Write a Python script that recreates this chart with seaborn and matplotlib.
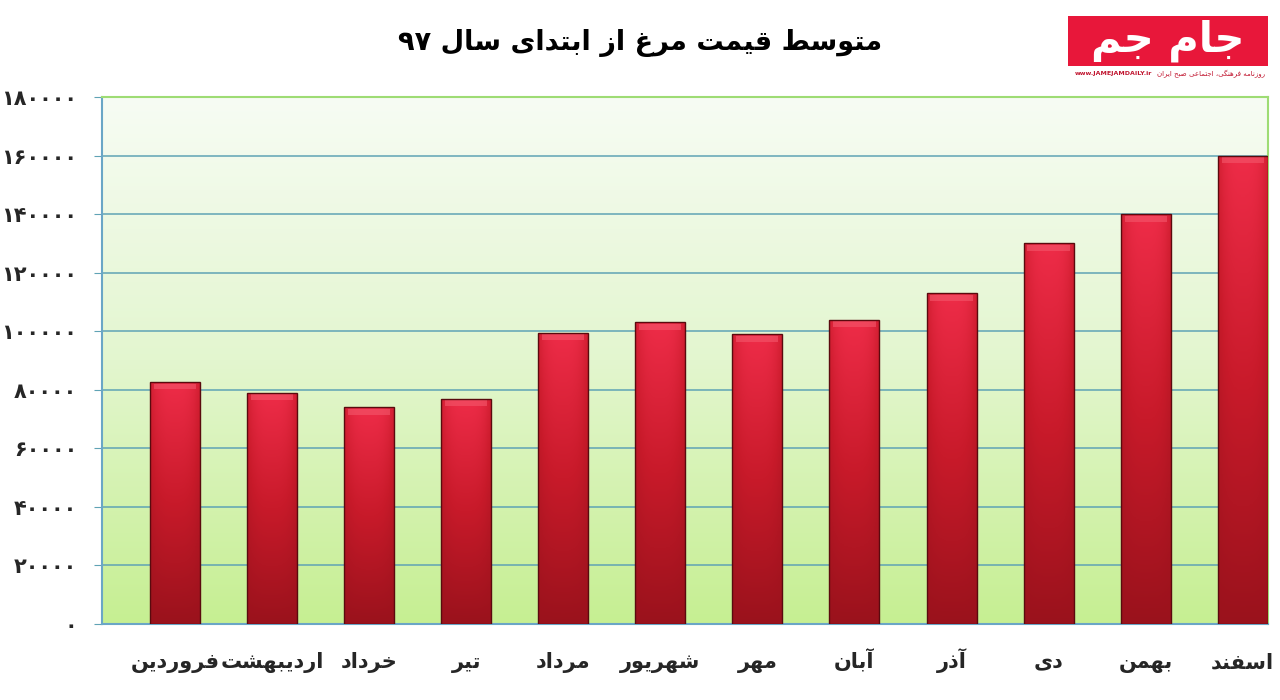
import numpy as np
import pandas as pd
import seaborn as sns
import matplotlib.pyplot as plt
from matplotlib.colors import LinearSegmentedColormap
from matplotlib.patches import Rectangle

# data
months = ["فروردین", "اردیبهشت", "خرداد", "تیر", "مرداد", "شهریور",
          "مهر", "آبان", "آذر", "دی", "بهمن", "اسفند"]
prices = [82700, 79000, 74000, 77000, 99500, 103000,
          99000, 104000, 113000, 130000, 140000, 160000]
yticks = [0, 20000, 40000, 60000, 80000, 100000, 120000, 140000, 160000, 180000]
title = "متوسط قیمت مرغ از ابتدای سال ۹۷"
logo = "جام جم"
logo_sub = "روزنامه فرهنگی، اجتماعی صبح ایران"
logo_url = "www.JAMEJAMDAILY.ir"

# minimal arabic/persian shaping (matplotlib has no bidi/shaping)
FORMS = {
    'ا': (0xFE8D, 0xFE8E, None, None), 'آ': (0xFE81, 0xFE82, None, None),
    'ب': (0xFE8F, 0xFE90, 0xFE91, 0xFE92), 'ت': (0xFE95, 0xFE96, 0xFE97, 0xFE98),
    'ج': (0xFE9D, 0xFE9E, 0xFE9F, 0xFEA0), 'ح': (0xFEA1, 0xFEA2, 0xFEA3, 0xFEA4),
    'خ': (0xFEA5, 0xFEA6, 0xFEA7, 0xFEA8), 'د': (0xFEA9, 0xFEAA, None, None),
    'ذ': (0xFEAB, 0xFEAC, None, None), 'ر': (0xFEAD, 0xFEAE, None, None),
    'ز': (0xFEAF, 0xFEB0, None, None), 'س': (0xFEB1, 0xFEB2, 0xFEB3, 0xFEB4),
    'ش': (0xFEB5, 0xFEB6, 0xFEB7, 0xFEB8), 'ص': (0xFEB9, 0xFEBA, 0xFEBB, 0xFEBC),
    'ط': (0xFEC1, 0xFEC2, 0xFEC3, 0xFEC4), 'ع': (0xFEC9, 0xFECA, 0xFECB, 0xFECC),
    'غ': (0xFECD, 0xFECE, 0xFECF, 0xFED0), 'ف': (0xFED1, 0xFED2, 0xFED3, 0xFED4),
    'ق': (0xFED5, 0xFED6, 0xFED7, 0xFED8), 'ل': (0xFEDD, 0xFEDE, 0xFEDF, 0xFEE0),
    'م': (0xFEE1, 0xFEE2, 0xFEE3, 0xFEE4), 'ن': (0xFEE5, 0xFEE6, 0xFEE7, 0xFEE8),
    'ه': (0xFEE9, 0xFEEA, 0xFEEB, 0xFEEC), 'و': (0xFEED, 0xFEEE, None, None),
    'ی': (0xFBFC, 0xFBFD, 0xFBFE, 0xFBFF), 'گ': (0xFB92, 0xFB93, 0xFB94, 0xFB95),
    'LA': (0xFEFB, 0xFEFC, None, None),
}


def shape_word(w):
    toks = []
    i = 0
    while i < len(w):
        if w[i] == 'ل' and i + 1 < len(w) and w[i + 1] == 'ا':
            toks.append('LA')
            i += 2
        else:
            toks.append(w[i])
            i += 1
    out = []
    for i, t in enumerate(toks):
        if t not in FORMS:
            out.append(t)
            continue
        prev = i > 0 and toks[i - 1] in FORMS and FORMS[toks[i - 1]][2] is not None
        nxt = FORMS[t][2] is not None and i + 1 < len(toks) and toks[i + 1] in FORMS
        f = FORMS[t]
        if prev and nxt:
            code = f[3]
        elif prev:
            code = f[1]
        elif nxt:
            code = f[2]
        else:
            code = f[0]
        out.append(chr(code))
    if any(ch in FORMS for ch in w):
        out = out[::-1]
    return ''.join(out)


def rtl(text):
    return ' '.join(shape_word(w) for w in text.split(' ')[::-1])


def fa_digits(v):
    return str(v).translate(str.maketrans('0123456789', '۰۱۲۳۴۵۶۷۸۹'))


sns.set_style("white")
plt.rcParams['font.family'] = ['DejaVu Sans']

df = pd.DataFrame({"month": months, "price": prices})

fig = plt.figure(figsize=(12.8, 7), dpi=100)
fig.patch.set_facecolor("white")
ax = fig.add_axes([102 / 1280, 1 - 624 / 700, (1268 - 102) / 1280, (624 - 97) / 700])

sns.barplot(data=df, x="month", y="price", ax=ax, width=0.515, color="#c81a2a",
            saturation=1, edgecolor="#5a0a0e", linewidth=1, zorder=3)

ax.set_xlim(-0.75, 11.26)
ax.set_ylim(0, 180000)

# background gradient: near white at top to light green at bottom
bg = LinearSegmentedColormap.from_list("bg", ["#c6ef92", "#e3f6cf", "#f7fcf4"])
ax.imshow(np.linspace(0, 1, 256).reshape(-1, 1), extent=[-0.75, 11.26, 0, 180000],
          aspect="auto", origin="lower", cmap=bg, zorder=0)

# bar gradient
barmap = LinearSegmentedColormap.from_list("bar", ["#9a121c", "#c81a2a", "#ee2c48"])
vert = np.linspace(0, 1, 200).reshape(-1, 1)
horiz = 1 - 0.35 * np.abs(np.linspace(-1, 1, 40)) ** 3
grad = vert * horiz
for p in ax.patches:
    x0, w, h = p.get_x(), p.get_width(), p.get_height()
    im = ax.imshow(grad, extent=[x0, x0 + w, 0, h], aspect="auto", origin="lower",
                   cmap=barmap, vmin=0, vmax=1, zorder=3.5)
    im.set_clip_path(p)
    p.set_zorder(4)
    p.set_facecolor("none")
    ax.add_patch(Rectangle((x0 + 0.04, h - 2600), w - 0.08, 2000, facecolor="#f4586c",
                           edgecolor="none", alpha=0.6, zorder=3.8))

ax.set_xlim(-0.75, 11.26)
ax.set_ylim(0, 180000)

ax.set_yticks(yticks)
ax.set_yticklabels([fa_digits(v) for v in yticks], fontsize=15, fontweight="bold")
ax.grid(axis="y", color="#5fa3b5", linewidth=1.1, zorder=1)
ax.grid(axis="x", visible=False)
ax.tick_params(axis="y", length=6, color="#5fa3b5", pad=12, left=True)
ax.tick_params(axis="x", length=0, pad=32)
ax.set_xticks(range(len(months)))
ax.set_xticklabels([rtl(m) for m in months], fontsize=15, fontweight="bold")
for lbl in ax.get_xticklabels():
    lbl.set_verticalalignment("baseline")
ax.set_xlabel("")
ax.set_ylabel("")

for s in ["left", "bottom"]:
    ax.spines[s].set_color("#6aa6c6")
    ax.spines[s].set_linewidth(1.5)
for s in ["top", "right"]:
    ax.spines[s].set_color("#9edc74")
    ax.spines[s].set_linewidth(1.5)
    ax.spines[s].set_visible(True)

fig.text(640 / 1280, 1 - 50 / 700, rtl(title), ha="center", va="baseline",
         fontsize=19.5, fontweight="bold", color="black")

# logo block
fig.patches.append(Rectangle((1068 / 1280, 1 - 66 / 700), 200 / 1280, 50 / 700,
                             transform=fig.transFigure, facecolor="#e8173a",
                             edgecolor="none"))
fig.text(1168 / 1280, 1 - 41 / 700, rtl(logo), ha="center", va="center",
         fontsize=30, fontweight="bold", color="white")
fig.text(1075 / 1280, 1 - 74 / 700, logo_url, ha="left", va="center",
         fontsize=4.5, fontweight="bold", color="#c0142e")
fig.text(1265 / 1280, 1 - 74 / 700, rtl(logo_sub), ha="right", va="center",
         fontsize=5, color="#c0142e")

fig.savefig("out.png", dpi=100, facecolor="white")
